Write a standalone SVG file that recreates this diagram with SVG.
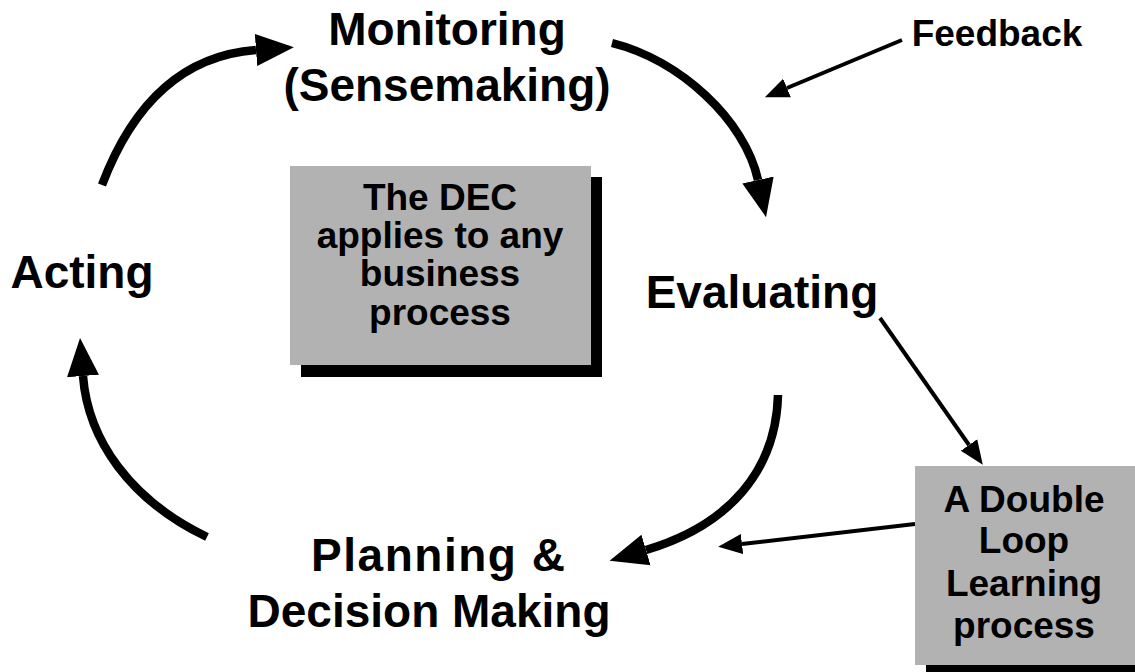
<svg xmlns="http://www.w3.org/2000/svg" width="1135" height="672" viewBox="0 0 1135 672">
<style>
.lbl{font-family:"Liberation Sans",Arial,sans-serif;font-weight:bold;fill:#000;text-anchor:middle}
.big{font-size:46px}
.mid{font-size:37px}
.thick{fill:none;stroke:#000;stroke-width:8.5}
.thin{fill:none;stroke:#000;stroke-width:4}
.box{fill:#b2b2b2}
.shadow{fill:#000}
</style>
<defs>
<marker id="headBig" markerUnits="userSpaceOnUse" viewBox="0 -17 40 34" refX="0" refY="0" markerWidth="40" markerHeight="34" orient="auto">
<path d="M0,-16 L38,0 L0,16 z" fill="#000"/>
</marker>
<marker id="headSmall" markerUnits="userSpaceOnUse" viewBox="0 -11 26 22" refX="0" refY="0" markerWidth="26" markerHeight="22" orient="auto">
<path d="M0,-10 L24,0 L0,10 z" fill="#000"/>
</marker>
</defs>
<rect width="1135" height="672" fill="#fff"/>
<g id="connectors">
<path class="thick" d="M102,185 Q150,58 256,50" marker-end="url(#headBig)"/>
<path class="thick" d="M612,43 C680,60 745,120 758,180" marker-end="url(#headBig)"/>
<path class="thick" d="M778,395 C776,470 730,525 646,550" marker-end="url(#headBig)"/>
<path class="thick" d="M207,537 C130,500 88,440 83,376" marker-end="url(#headBig)"/>
<path class="thin" d="M902,40 L787,88" marker-end="url(#headSmall)"/>
<path class="thin" d="M880,318 L969,445" marker-end="url(#headSmall)"/>
<path class="thin" d="M915,524 L742,544" marker-end="url(#headSmall)"/>
</g>
<g id="monitoring">
<text class="lbl big" x="447" y="45">Monitoring</text>
<text class="lbl big" x="447" y="101">(Sensemaking)</text>
</g>
<g id="evaluating">
<text class="lbl big" x="762" y="308">Evaluating</text>
</g>
<g id="planning">
<text class="lbl big" x="438" y="571" textLength="254" lengthAdjust="spacing">Planning &amp;</text>
<text class="lbl big" x="429" y="627">Decision Making</text>
</g>
<g id="acting">
<text class="lbl big" x="82" y="288">Acting</text>
</g>
<g id="feedback">
<text class="lbl mid" x="997" y="46">Feedback</text>
</g>
<g id="dec">
<rect class="shadow" x="301" y="177" width="301" height="200"/>
<rect class="box" x="290" y="166" width="301" height="199"/>
<text class="lbl mid" x="440" y="210">The DEC</text>
<text class="lbl mid" x="440" y="248">applies to any</text>
<text class="lbl mid" x="440" y="286">business</text>
<text class="lbl mid" x="440" y="325">process</text>
</g>
<g id="doubleloop">
<rect class="shadow" x="926" y="477" width="220" height="200"/>
<rect class="box" x="915" y="466" width="220" height="199"/>
<text class="lbl mid" x="1024" y="512">A Double</text>
<text class="lbl mid" x="1024" y="553">Loop</text>
<text class="lbl mid" x="1024" y="596">Learning</text>
<text class="lbl mid" x="1024" y="638">process</text>
</g>
</svg>
